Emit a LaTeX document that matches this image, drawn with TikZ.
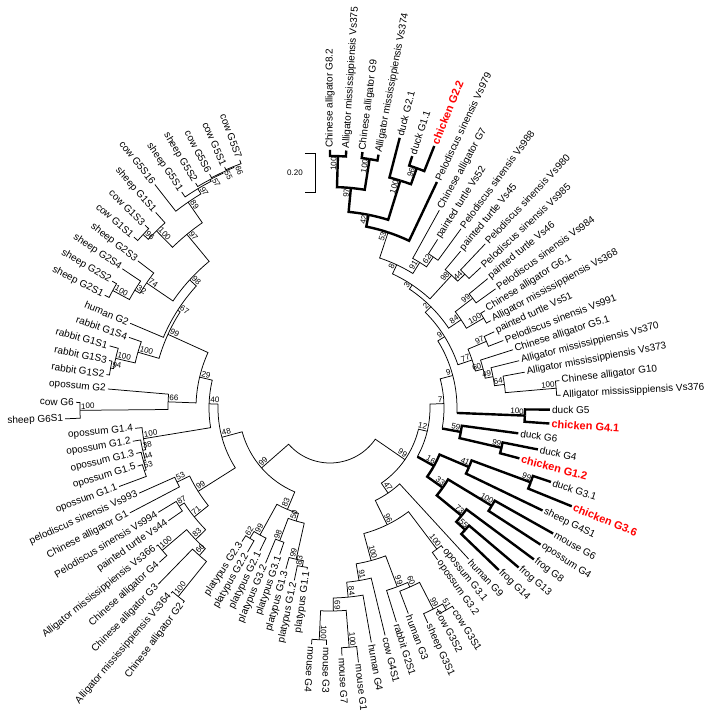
\documentclass[tikz,border=0pt]{standalone}
\usepackage{fontspec}
\setmainfont{Liberation Sans}

\tikzset{
  branch/.style={line width=0.75pt},
  boldbranch/.style={line width=2.4pt},
  leaflabel/.style={font=\fontsize{10}{12}\selectfont,inner sep=2pt},
  chick/.style={font=\fontsize{11}{13}\selectfont\bfseries,text=red,inner sep=2pt},
  bootlabel/.style={font=\fontsize{8}{9}\selectfont,inner sep=1pt}
}

\makeatletter
% leaf k sits at angle 93.617-3.617k
\newcommand\tipat[3]{%
  \pgfmathsetmacro\tr@a{93.617-3.617*#2}%
  \expandafter\xdef\csname ta@#1\endcsname{\tr@a}%
  \expandafter\xdef\csname tr@#1\endcsname{#3}%
  \coordinate (#1) at (\tr@a:#3);}
% a fork sits half way between its two children
\newcommand\forkat[4]{%
  \pgfmathsetmacro\tr@a{(\csname ta@#2\endcsname+\csname ta@#3\endcsname)/2}%
  \expandafter\xdef\csname ta@#1\endcsname{\tr@a}%
  \expandafter\xdef\csname tr@#1\endcsname{#4}%
  \coordinate (#1) at (\tr@a:#4);}
\newcommand\branch[3][branch]{%
  \edef\tr@p{\csname ta@#2\endcsname}\edef\tr@c{\csname ta@#3\endcsname}\edef\tr@r{\csname tr@#2\endcsname}%
  \draw[#1] (#2) arc[start angle=\tr@p,end angle=\tr@c,radius=\tr@r] -- (#3);}
\newcommand\boldstem[2]{%
  \edef\tr@p{\csname ta@#1\endcsname}\edef\tr@c{\csname ta@#2\endcsname}\edef\tr@r{\csname tr@#1\endcsname}%
  \draw[branch] (#1) arc[start angle=\tr@p,end angle=\tr@c,radius=\tr@r] coordinate (#2-k);
  \draw[boldbranch] (#2-k) -- (#2);}
\newcommand\tiplabel[3][leaflabel]{%
  \edef\tr@p{\csname ta@#2\endcsname}%
  \pgfmathtruncatemacro\tr@s{\tr@p>-95}%
  \ifnum\tr@s=1
    \node[#1,rotate=\tr@p,anchor=west] (#2-t) at (#2) {#3};
  \else
    \pgfmathsetmacro\tr@q{\tr@p+180}%
    \node[#1,rotate=\tr@q,anchor=east] (#2-t) at (#2) {#3};
  \fi}
\newcommand\bootlab[2]{%
  \edef\tr@p{\csname ta@#1\endcsname}%
  \pgfmathtruncatemacro\tr@s{\tr@p>-95}%
  \ifnum\tr@s=1
    \node[bootlabel,rotate=\tr@p,anchor=south east] (#1-b) at (#1) {#2};
  \else
    \pgfmathsetmacro\tr@q{\tr@p+180}%
    \node[bootlabel,rotate=\tr@q,anchor=south west] (#1-b) at (#1) {#2};
  \fi}
\makeatother

\begin{document}
\begin{tikzpicture}[x=1pt,y=1pt]
\useasboundingbox (-330,-307) rectangle (379,408);

% leaves: name/index/radius/text
\foreach \nm/\ix/\rd/\tx in {
cag82/1/258/Chinese alligator G8.2,
am375/2/258/Alligator mississippiensis Vs375,
cag9/3/258/Chinese alligator G9,
am374/4/258/Alligator mississippiensis Vs374,
dkg21/5/279/duck G2.1,
dkg11/6/265/duck G1.1,
ps979/8/250/Pelodiscus sinensis Vs979,
cag7/9/226/Chinese alligator G7,
pt52/10/200/painted turtle Vs52,
ps988/11/222/Pelodiscus sinensis Vs988,
pt45/12/204/painted turtle Vs45,
ps980/13/226/Pelodiscus sinensis Vs980,
ps985/14/206/Pelodiscus sinensis Vs985,
pt46/15/204/painted turtle Vs46,
ps984/16/204/Pelodiscus sinensis Vs984,
cag61/17/183/Chinese alligator G6.1,
am368/18/183/Alligator mississippiensis Vs368,
pt51/19/181/painted turtle Vs51,
ps991/20/186/Pelodiscus sinensis Vs991,
cag51/21/192/Chinese alligator G5.1,
am370/22/195/Alligator mississippiensis Vs370,
am373/23/198/Alligator mississippiensis Vs373,
cag10/24/231/Chinese alligator G10,
am376/25/231/Alligator mississippiensis Vs376,
dkg5/26/220/duck G5,
dkg6/28/190/duck G6,
dkg4/29/212/duck G4,
dkg31/31/233/duck G3.1,
shg4s1/33/236/sheep G4S1,
msg6/34/256/mouse G6,
opg4/35/251/opossum G4,
frg8/36/254/frog G8,
frg13/37/247/frog G13,
frg14/38/234/frog G14,
hug9/39/205/human G9,
opg31/40/180/opossum G3.1,
opg32/41/186/opossum G3.2,
cwg3s1/42/236/cow G3S1,
cwg3s2/43/228/cow G3S2,
shg3s1/44/236/sheep G3S1,
hug3/45/220/human G3,
rbg2s1/46/224/rabbit G2S1,
cwg4s1/47/234/cow G4S1,
hug4/48/238/human G4,
msg1/49/256/mouse G1,
msg7/50/248/mouse G7,
msg3/51/237/mouse G3,
msg4/52/237/mouse G4,
plg11/53/163/platypus G1.1,
plg12/54/176/platypus G1.2,
plg13/55/167/platypus G1.3,
plg31/56/155/platypus G3.1,
plg32/57/168/platypus G3.2,
plg21/58/159/platypus G2.1,
plg22/59/166/platypus G2.2,
plg23/60/160/platypus G2.3,
cag2/61/244/Chinese alligator G2,
am364/62/244/Alligator mississippiensis Vs364,
cag3/63/246/Chinese alligator G3,
cag4/64/230/Chinese alligator G4,
am366/65/222/Alligator mississippiensis Vs366,
pt44/66/197/painted turtle Vs44,
ps994/67/201/Pelodiscus sinensis Vs994,
cag1/68/226/Chinese alligator G1,
ps993/69/209/pelodiscus sinensis Vs993,
opg11/70/225/opossum G1.1,
opg15/71/201/opossum G1.5,
opg13/72/199/opossum G1.3,
opg12/73/200/opossum G1.2,
opg14/74/196/opossum G1.4,
shg6s1/75/265/sheep G6S1,
cwg6/76/254/cow G6,
opg2/77/223/opossum G2,
rbg1s2/78/226/rabbit G1S2,
rbg1s3/79/226/rabbit G1S3,
rbg1s1/80/229/rabbit G1S1,
rbg1s4/81/213/rabbit G1S4,
hug2/82/217/human G2,
shg2s1/83/252/sheep G2S1,
shg2s2/84/252/sheep G2S2,
shg2s4/85/250/sheep G2S4,
shg2s3/86/242/sheep G2S3,
cwg1s1/87/260/cow G1S1,
cwg1s3/88/260/cow G1S3,
shg1s1/89/262/sheep G1S1,
cwg5s16/90/284/cow G5S16,
shg5s1/91/262/sheep G5S1,
shg5s2/92/262/sheep G5S2,
cwg5s6/93/263/cow G5S6,
cwg5s1/94/263/cow G5S1,
cwg5s7/95/264/cow G5S7}{\tipat{\nm}{\ix}{\rd}\tiplabel{\nm}{\tx}}
\foreach \nm/\ix/\rd/\tx in {chg22/7/282/chicken G2.2,chg41/27/220/chicken G4.1,
  chg12/30/196/chicken G1.2,chg36/32/261/chicken G3.6}{\tipat{\nm}{\ix}{\rd}\tiplabel[chick]{\nm}{\tx}}

% forks: name/child/child/radius/bootstrap/look (0 thin, 1 bold, 2 bold second stem)
\foreach \nm/\ca/\cb/\rd/\tx/\fl in {
alA/cag82/am375/252/100/1, alC/cag9/am374/252/100/1, alB/alA/alC/221/97/1,
dkG/dkg11/chg22/255/96/1, dkF/dkg21/dkG/238/100/1, alD/alB/dkF/197/42/1,
c53/alD/ps979/185/53/1,
t62/pt52/ps988/183/62/0, t91/cag7/t62/171/91/0, n8/c53/t91/158/8/0,
t44/ps980/ps985/190/44/0, t98/pt45/t44/180/98/0, n3/n8/t98/148/3/0,
t99/pt46/ps984/180/99/0, a100/cag61/am368/178/100/0, t84/t99/a100/158/84/0,
n2/n3/t84/143/2/0,
t97/pt51/ps991/170/97/0, a100b/cag10/am376/227/100/0, a64/am373/a100b/176/64/0,
a49/am370/a64/166/49/0, a60/cag51/a49/158/60/0, a77/t97/a60/150/77/0,
n9u/n2/a77/135/9/0,
dk100/dkg5/chg41/195/100/1, n9l/n9u/dk100/127/9/2,
d99/dkg4/chg12/176/99/1, d59/dkg6/d99/133/59/1, n7/n9l/d59/114/7/2,
c99/dkg31/chg36/214/99/1, c41/c99/shg4s1/151/41/1,
m100/msg6/opg4/189/100/1, f55/frg13/frg14/182/55/1, f73/frg8/f55/170/73/1,
c33/m100/f73/138/33/1, c16/c41/c33/119/16/1, n12/n7/c16/100/12/2,
b51/cwg3s1/cwg3s2/233/51/0, b99/b51/shg3s1/226/99/0, b60/hug3/b99/196/60/0,
b99r/rbg2s1/b60/191/99/0,
ms100b/msg1/msg7/240/100/0, ms100a/msg3/msg4/232/100/0, ms69/ms100b/ms100a/203/69/0,
ms84/hug4/ms69/190/84/0, ms91/cwg4s1/ms84/175/91/0, b100/ms91/b99r/158/100/0,
q100/opg31/opg32/177/100/0, b96/b100/q100/130/96/0, n47/hug9/b96/103/47/0,
r99/n12/n47/91/99/0,
p62/plg22/plg23/153/62/0, p99a/plg21/p62/145/99/0, p83/plg12/plg11/161/83/0,
p99b/plg13/p83/155/99/0, p98/plg31/plg32/142/98/0, p50/p99b/p98/118/50/0,
p83r/p50/p99a/110/83/0,
g100a/cag2/am364/242/100/0, g66/g100a/cag3/197/66/0, g100b/cag4/am366/220/100/0,
g83/g66/g100b/188/83/0, g87/pt44/ps994/180/87/0, g71/g83/g87/174/71/0,
g53/cag1/ps993/170/53/0, g99/g71/g53/156/99/0,
o53/opg15/opg11/196/53/0, o44/opg13/o53/194/44/0, o38/opg12/o44/192/38/0,
o100/opg14/o38/189/100/0,
s100/shg6s1/cwg6/250/100/0, s66/opg2/s100/162/66/0,
rb94/rbg1s2/rbg1s3/223/94/0, rb100/rb94/rbg1s1/220/100/0, rb100c/rb100/rbg1s4/200/100/0,
z100/shg2s1/shg2s2/247/100/0, z32/z100/shg2s4/228/32/0, z74/z32/shg2s3/222/74/0,
k96/cwg1s1/cwg1s3/255/96/0, k100/k96/shg1s1/248/100/0,
v66/cwg5s1/cwg5s7/260/66/0, v55/cwg5s6/v66/259/55/0, v57/shg5s2/v55/258/57/0,
v97/shg5s1/v57/256/97/0, v89/cwg5s16/v97/250/89/0,
k97/k100/v89/225/97/0, z98/z74/k97/190/98/0, h67/hug2/z98/181/67/0,
h99/rb100c/h67/178/99/0, l29/h99/s66/134/29/0, l40/l29/o100/121/40/0,
l48/l40/g99/112/48/0, l99/l48/p83r/91/99/0}{%
  \forkat{\nm}{\ca}{\cb}{\rd}
  \ifcase\fl
    \branch{\nm}{\ca}\branch{\nm}{\cb}
  \or
    \branch[boldbranch]{\nm}{\ca}\branch[boldbranch]{\nm}{\cb}
  \or
    \branch{\nm}{\ca}\boldstem{\nm}{\cb}
  \fi
  \bootlab{\nm}{\tx}}

\forkat{root}{l99}{r99}{55}
\branch{root}{l99}
\branch{root}{r99}

% scale bar
\coordinate (sbtop) at (-15,255);
\coordinate (sbbot) at (-15,216);
\draw[branch] ([xshift=-10pt]sbtop) -- (sbtop) -- (sbbot) -- ([xshift=-10pt]sbbot);
\node[bootlabel,anchor=east] (sbval) at (-26,235.5) {0.20};
\end{tikzpicture}
\end{document}
